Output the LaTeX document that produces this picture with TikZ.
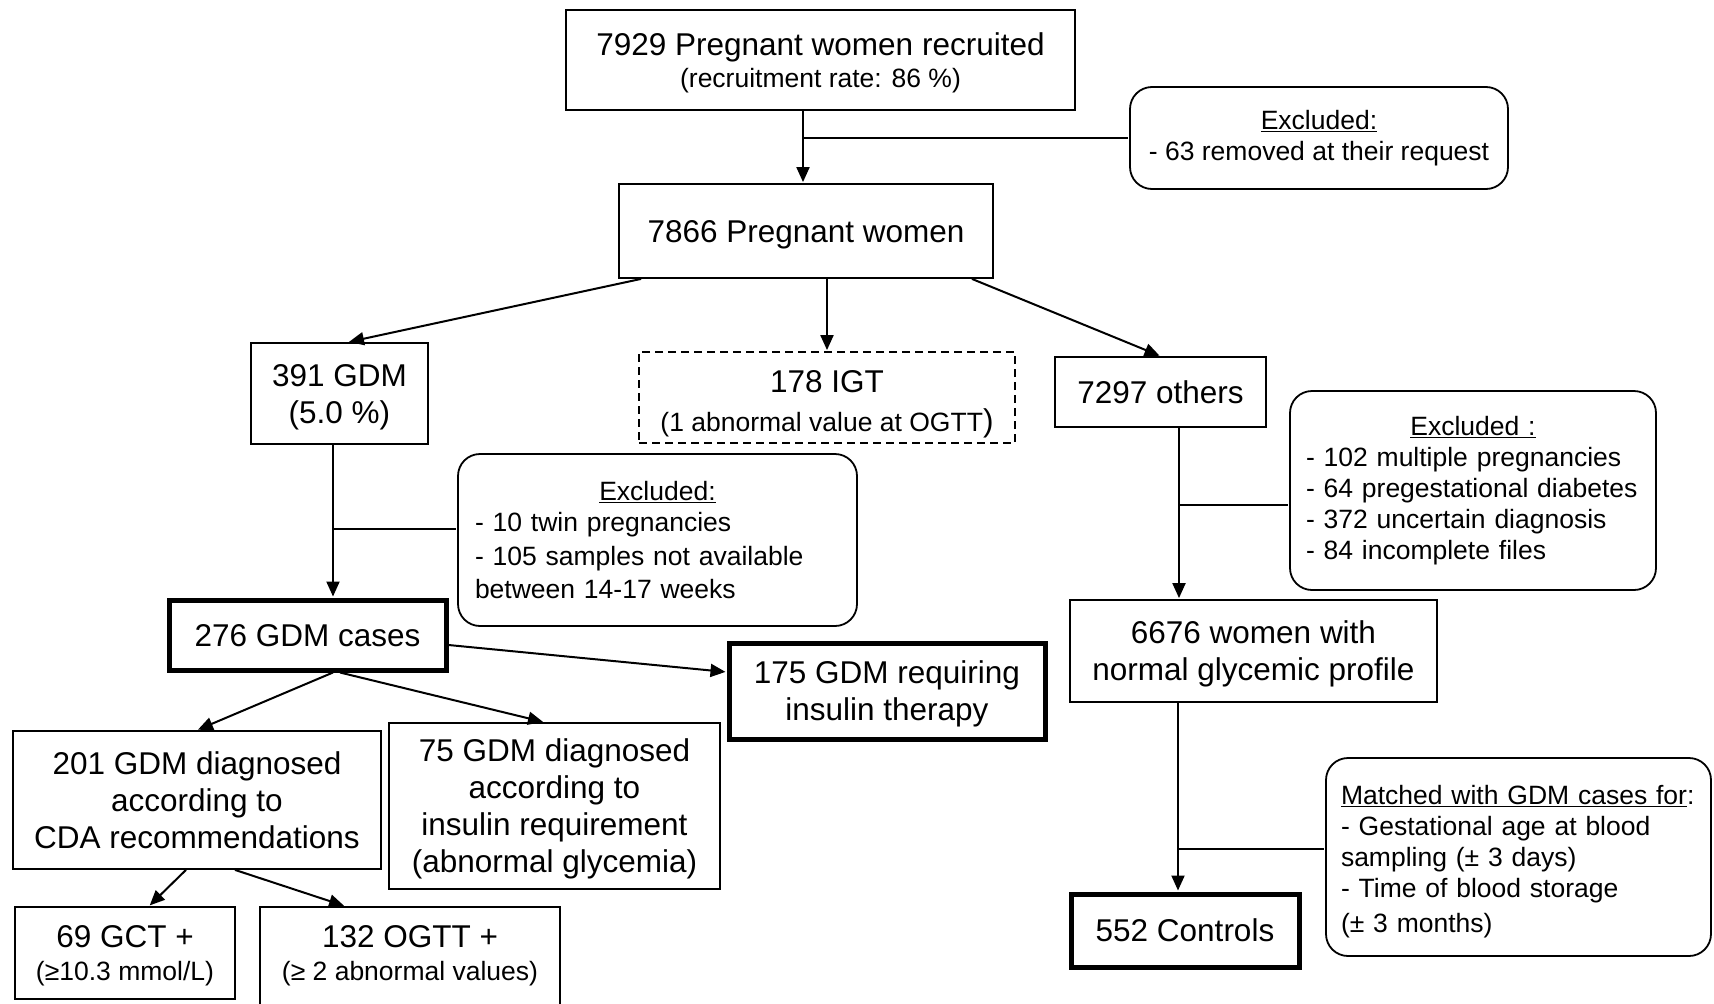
\documentclass[tikz,border=0pt]{standalone}
\usepackage{fontspec}
\setmainfont{Liberation Sans}
\usepackage{tikz}
\usetikzlibrary{arrows.meta}
\newcommand{\bigfont}{\fontsize{31.5}{37}\selectfont}
\newcommand{\smallfont}{\fontsize{26.5}{31}\selectfont}
\hyphenpenalty=10000

\begin{document}
\begin{tikzpicture}[->,>={Triangle[length=15pt,width=13pt]},shorten >=1pt,
                    x=1pt,y=-1pt,line width=2pt]
  \tikzstyle{box}=[rectangle,draw=black,fill=white,line width=1.8pt,inner sep=0pt,
                   align=center,font=\bigfont,text depth=0pt]
  \tikzstyle{main}=[box,line width=5pt]
  \tikzstyle{maybe}=[box,dash pattern=on 8pt off 5pt]
  \tikzstyle{note}=[rectangle,draw=black,fill=white,line width=1.8pt,inner sep=0pt,
                    rounded corners=22pt,align=left,font=\smallfont]

  \useasboundingbox (0,0) rectangle (1714,1004);

  \node[box,minimum width=509pt,minimum height=100pt] (rec) at (820.5,60)
    {7929 Pregnant women recruited\\[-4.5pt]{\smallfont (recruitment rate: 86 \%)}};
  \node[box,minimum width=374pt,minimum height=94pt] (all) at (806,231)
    {7866 Pregnant women};
  \node[box,minimum width=177pt,minimum height=101pt] (gdm) at (339.5,393.5)
    {391 GDM\\(5.0 \%)};
  \node[maybe,minimum width=376pt,minimum height=91pt,text height=67pt] (igt) at (827,397.5)
    {178 IGT\\[1.5pt]{\smallfont (1 abnormal value at OGTT}{\bigfont)}};
  \node[box,minimum width=211pt,minimum height=70pt] (oth) at (1160.5,392)
    {7297 others};
  \node[main,minimum width=277pt,minimum height=70pt] (cases) at (307.5,635)
    {276 GDM cases};
  \node[main,minimum width=316pt,minimum height=96pt] (ins) at (887,691)
    {175 GDM requiring\\insulin therapy};
  \node[box,minimum width=367pt,minimum height=102pt] (norm) at (1253.5,651)
    {6676 women with\\normal glycemic profile};
  \node[box,minimum width=368pt,minimum height=138pt] (cda) at (197,800)
    {201 GDM diagnosed\\according to\\CDA recommendations};
  \node[box,minimum width=331pt,minimum height=166pt] (req) at (554.5,806)
    {75 GDM diagnosed\\according to\\insulin requirement\\(abnormal glycemia)};
  \node[box,minimum width=220pt,minimum height=92pt] (gct) at (125,953)
    {69 GCT +\\[-4.5pt]{\smallfont (≥10.3 mmol/L)}};
  \node[box,minimum width=300pt,minimum height=106pt,text depth=14pt] (ogtt) at (410,960)
    {132 OGTT +\\[-4.5pt]{\smallfont (≥ 2 abnormal values)}};
  \node[main,minimum width=228pt,minimum height=73pt] (ctl) at (1185,930.5)
    {552 Controls};

  \node[note,align=center,minimum width=378pt,minimum height=102pt] (exc1) at (1319,138)
    {\underline{Excluded:}\\- 63 removed at their request};
  \node[note,inner xsep=17pt,text width=365pt,minimum height=172pt,
        font=\fontsize{26.5}{33.5}\selectfont] (exc2) at (657.5,540)
    {\hfill\underline{Excluded:}\hfill\mbox{}\\[-2pt]- 10 twin pregnancies\\
     - 105 samples not available\\between 14-17 weeks};
  \node[note,inner xsep=16pt,text width=334pt,minimum height=199pt] (exc3) at (1473,490.5)
    {\hfill\underline{Excluded :}\hfill\mbox{}\\- 102 multiple pregnancies\\
     - 64 pregestational diabetes\\- 372 uncertain diagnosis\\- 84 incomplete files};
  \node[note,inner xsep=15pt,text width=355pt,minimum height=198pt,text height=28pt] (mat) at (1518.5,857)
    {\underline{Matched with GDM cases for}:\\- Gestational age at blood\\
     sampling (± 3 days)\\- Time of blood storage\\[4pt](± 3 months)};

  \coordinate (j0) at (803,138);
  \coordinate (j2) at (333,529);
  \coordinate (j3) at (1179,505);
  \coordinate (j4) at (1178,849);

  \path (rec.south -| j0) edge (all.north -| j0)
        (j0) edge[-] (exc1.west |- j0)
        ([xshift=23pt]all.south west) edge ([xshift=8.5pt]gdm.north)
        (all.south -| igt.north) edge (igt.north)
        ([xshift=-22pt]all.south east) edge (oth.north)
        (gdm.south -| j2) edge (cases.north -| j2)
        (j2) edge[-] (exc2.west |- j2)
        (oth.south -| j3) edge (norm.north -| j3)
        (j3) edge[-] (exc3.west |- j3)
        (norm.south -| j4) edge (ctl.north -| j4)
        (j4) edge[-] (mat.west |- j4)
        ([yshift=-10pt]cases.east) edge ([yshift=19pt]ins.west)
        ([xshift=25.5pt]cases.south) edge (cda.north)
        ([xshift=32.5pt]cases.south) edge ([xshift=-10.5pt]req.north)
        ([xshift=-11pt]cda.south) edge ([xshift=24pt]gct.north)
        ([xshift=38pt]cda.south) edge ([xshift=-65pt]ogtt.north);
\end{tikzpicture}
\end{document}
